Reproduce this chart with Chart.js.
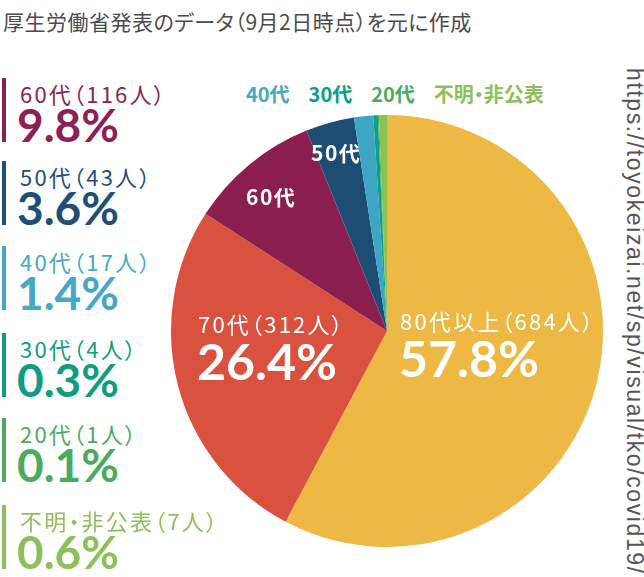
<!DOCTYPE html>
<html>
<head>
    <meta charset="utf-8">
    <title>年代別の死亡者</title>
    <script src="https://cdn.jsdelivr.net/npm/chart.js@4.4.0/dist/chart.umd.min.js"></script>
    <style>
        body {
            margin: 0;
            width: 644px;
            height: 577px;
            overflow: hidden;
            background: #fff;
            font-family: "Noto Sans CJK JP", sans-serif;
            font-feature-settings: "palt";
            position: relative;
        }
        .abs {
            position: absolute;
            line-height: 1;
            white-space: nowrap;
        }
        .title {
            left: 3px;
            top: 11px;
            font-size: 21px;
            letter-spacing: 0.5px;
            color: #4a4a4a;
        }
        .src {
            left: 646px;
            top: 68px;
            font-family: "Liberation Sans", sans-serif;
            font-size: 23px;
            letter-spacing: 1.6px;
            color: #555;
            transform-origin: 0 0;
            transform: rotate(90deg);
        }
        .chart-box {
            position: absolute;
            left: 167px;
            top: 111px;
            width: 440px;
            height: 440px;
        }
        .bar {
            position: absolute;
            left: 2px;
            width: 4px;
            height: 64px;
        }
        .lab {
            font-size: 22px;
            letter-spacing: 2.2px;
        }
        .num {
            font-family: Lato, sans-serif;
            font-weight: bold;
        }
        .leg-num { font-size: 46px; }
        .pie-num { font-size: 50px; color: #fff; }
        .white { color: #fff; }
        .small { font-size: 21px; font-weight: bold; letter-spacing: 1.5px; color: #fff; }
        .top-lab {
            left: 246px;
            top: 84px;
            font-size: 20px;
            font-weight: bold;
        }
        .top-lab span { margin-right: 19px; }
        .top-lab span:last-child { margin-right: 0; }
    </style>
</head>
<body>
    <div class="abs title">厚生労働省発表のデータ（9月2日時点）を元に作成</div>
    <div class="abs src">https://toyokeizai.net/sp/visual/tko/covid19/</div>

    <div class="chart-box"><canvas id="pie"></canvas></div>

    <div id="legend"></div>
    <div class="abs top-lab" id="toplab"></div>
    <div id="inpie"></div>

    <script>
        // age groups, clockwise from the top of the pie
        const groups = ['80代以上', '70代', '60代', '50代', '40代', '30代', '20代', '不明・非公表'];
        const deaths = [684, 312, 116, 43, 17, 4, 1, 7];
        const sliceColors = ['#EDB944', '#D9513F', '#8A1E4F', '#1D4D72', '#3DA6C4', '#10A085', '#3DAA5C', '#8CC152'];
        const textColors = ['#EDB944', '#D9513F', '#8B2252', '#1F4E79', '#46A8C5', '#0E9C82', '#4CAA5E', '#8DC05A'];

        // left legend: which groups, and where each block starts
        const legendIdx = [2, 3, 4, 5, 6, 7];
        const legendTops = [82, 165, 250, 337, 422, 509];

        // names written above the pie for the thin slices
        const topIdx = [4, 5, 6, 7];

        const total = deaths.reduce((a, b) => a + b, 0);
        const pct = i => (deaths[i] / total * 100).toFixed(1) + '%';
        const countLabel = i => `${groups[i]}（${deaths[i]}人）`;

        function addText(parent, cls, text, left, top, color) {
            const el = document.createElement('div');
            el.className = 'abs ' + cls;
            el.textContent = text;
            el.style.left = left + 'px';
            el.style.top = top + 'px';
            if (color) el.style.color = color;
            parent.appendChild(el);
            return el;
        }

        const legend = document.getElementById('legend');
        legendIdx.forEach((idx, i) => {
            const top = legendTops[i];
            const bar = document.createElement('div');
            bar.className = 'bar';
            bar.style.top = (top - 4) + 'px';
            bar.style.background = textColors[idx];
            legend.appendChild(bar);
            addText(legend, 'lab', countLabel(idx), 20, top, textColors[idx]);
            addText(legend, 'num leg-num', pct(idx), 17, top + 20, textColors[idx]);
        });

        document.getElementById('toplab').innerHTML = topIdx.map(idx =>
            `<span style="color:${textColors[idx]}">${groups[idx]}</span>`).join('');

        // labels inside the big slices
        const inpie = document.getElementById('inpie');
        addText(inpie, 'lab white', countLabel(0), 400, 309);
        addText(inpie, 'num pie-num', pct(0), 399, 333);
        addText(inpie, 'lab white', countLabel(1), 198, 312);
        addText(inpie, 'num pie-num', pct(1), 197, 336);
        addText(inpie, 'small', groups[2], 246, 186);
        addText(inpie, 'small', groups[3], 311, 142);

        new Chart(document.getElementById('pie'), {
            type: 'pie',
            data: {
                labels: groups,
                datasets: [{
                    data: deaths,
                    backgroundColor: sliceColors,
                    borderWidth: 0
                }]
            },
            options: {
                responsive: true,
                maintainAspectRatio: false,
                animation: false,
                layout: { padding: 4 },
                plugins: {
                    legend: { display: false },
                    tooltip: { enabled: false }
                }
            }
        });
    </script>
</body>
</html>
